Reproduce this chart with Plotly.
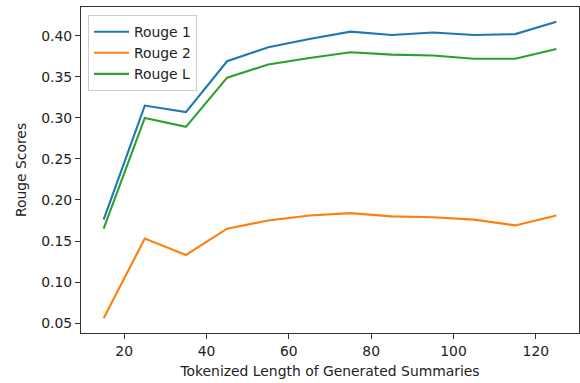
import plotly.graph_objects as go

lengths = [15, 25, 35, 45, 55, 65, 75, 85, 95, 105, 115, 125]
rouge1 = [0.176, 0.315, 0.307, 0.369, 0.386, 0.396, 0.405, 0.401, 0.404, 0.401, 0.402, 0.417]
rouge2 = [0.056, 0.153, 0.133, 0.165, 0.175, 0.181, 0.184, 0.180, 0.179, 0.176, 0.169, 0.181]
rougeL = [0.165, 0.300, 0.289, 0.349, 0.365, 0.373, 0.380, 0.377, 0.376, 0.372, 0.372, 0.384]

series = [("Rouge 1", rouge1, "#1f77b4"), ("Rouge 2", rouge2, "#ff7f0e"), ("Rouge L", rougeL, "#2ca02c")]

fig = go.Figure()
for name, vals, col in series:
    fig.add_trace(go.Scatter(x=lengths, y=vals, mode="lines", name=name,
                             line=dict(color=col, width=2.1)))

font = dict(family="DejaVu Sans", size=13.9, color="#222222")
axis_common = dict(showline=True, linecolor="#333333", linewidth=1.1, mirror=True,
                   ticks="outside", ticklen=5, tickwidth=1.1, tickcolor="#333333",
                   showgrid=False, zeroline=False, tickfont=font)

xmin, xmax = min(lengths), max(lengths)
xpad = (xmax - xmin) * 0.05
allv = rouge1 + rouge2 + rougeL
ymin, ymax = min(allv), max(allv)
ypad = (ymax - ymin) * 0.05

fig.update_layout(
    width=580, height=383,
    margin=dict(l=81, r=1, t=7, b=50),
    paper_bgcolor="white", plot_bgcolor="white",
    font=font,
    xaxis=dict(range=[xmin - xpad, xmax + xpad], tickvals=[20, 40, 60, 80, 100, 120],
               title=dict(text="Tokenized Length of Generated Summaries", font=font, standoff=8),
               **axis_common),
    yaxis=dict(range=[ymin - ypad, ymax + ypad],
               tickvals=[0.05, 0.10, 0.15, 0.20, 0.25, 0.30, 0.35, 0.40],
               ticktext=["0.05", "0.10", "0.15", "0.20", "0.25", "0.30", "0.35", "0.40"],
               title=dict(text="Rouge Scores", font=font, standoff=11),
               **axis_common),
    legend=dict(x=0.014, y=0.975, xanchor="left", yanchor="top",
                bgcolor="rgba(255,255,255,0.8)", bordercolor="#cccccc", borderwidth=1,
                font=font, itemwidth=35, tracegroupgap=0),
    showlegend=True,
)

fig.write_html("out.html")
